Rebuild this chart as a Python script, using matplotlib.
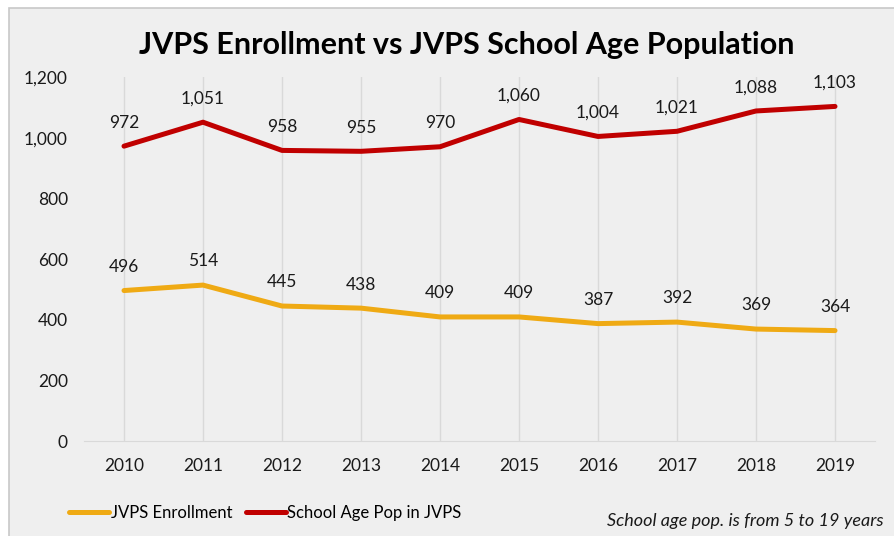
import matplotlib
matplotlib.use('Agg')
import matplotlib.pyplot as plt
from matplotlib.patches import Rectangle

years = ['2010', '2011', '2012', '2013', '2014', '2015', '2016', '2017', '2018', '2019']
enrollment = [496, 514, 445, 438, 409, 409, 387, 392, 369, 364]
school_age_pop = [972, 1051, 958, 955, 970, 1060, 1004, 1021, 1088, 1103]

plt.rcParams['font.family'] = ['Lato', 'DejaVu Sans']

fig = plt.figure(figsize=(8.95, 5.36), dpi=100)
fig.patch.set_facecolor('white')

# chart box (runs off the right and bottom edge)
fig.patches.append(Rectangle((9 / 895, -0.05), 1.0, 1.05 - 8 / 536,
                             transform=fig.transFigure, facecolor='#efefef',
                             edgecolor='#c8c8c8', linewidth=1.2, zorder=-1))

ax = fig.add_axes([84.5 / 895, 95 / 536, 790 / 895, 364 / 536])
ax.set_facecolor('none')

x = list(range(len(years)))
ax.plot(x, enrollment, color='#EFAA14', linewidth=3.6, solid_capstyle='round', zorder=3,
        label='JVPS Enrollment')
ax.plot(x, school_age_pop, color='#C00000', linewidth=3.6, solid_capstyle='round', zorder=3,
        label='School Age Pop in JVPS')

for xi, v in zip(x, enrollment):
    ax.annotate(f'{v:,}', (xi, v), xytext=(0, 17), textcoords='offset points',
                ha='center', va='center', fontsize=12.5, color='#1a1a1a')
for xi, v in zip(x, school_age_pop):
    ax.annotate(f'{v:,}', (xi, v), xytext=(0, 17), textcoords='offset points',
                ha='center', va='center', fontsize=12.5, color='#1a1a1a')

ax.set_xlim(-0.5, len(years) - 0.5)
ax.set_ylim(0, 1200)
ax.set_yticks(range(0, 1201, 200))
ax.set_yticklabels([f'{v:,}' for v in range(0, 1201, 200)])
ax.set_xticks(x)
ax.set_xticklabels(years)
ax.tick_params(axis='both', length=0, labelsize=12.5, colors='#1a1a1a')
ax.tick_params(axis='y', pad=12)
ax.tick_params(axis='x', pad=12)

for xi in x:
    ax.axvline(xi, color='#d9d9d9', linewidth=1, zorder=1)

for s in ['top', 'right', 'left']:
    ax.spines[s].set_visible(False)
ax.spines['bottom'].set_color('#d9d9d9')

fig.text(467 / 895, 1 - 45 / 536, 'JVPS Enrollment vs JVPS School Age Population',
         ha='center', va='center', fontsize=22, fontweight='bold', color='black')

fig.legend(loc='center left', bbox_to_anchor=(54 / 895, 1 - 513 / 536), ncol=2,
           frameon=False, fontsize=12, handlelength=2.4, handletextpad=0.1,
           columnspacing=0.8)

fig.text(884 / 895, 1 - 521 / 536, 'School age pop. is from 5 to 19 years',
         ha='right', va='center', fontsize=13, style='italic', color='#1a1a1a')

fig.savefig('out.png', dpi=100, facecolor='white')
